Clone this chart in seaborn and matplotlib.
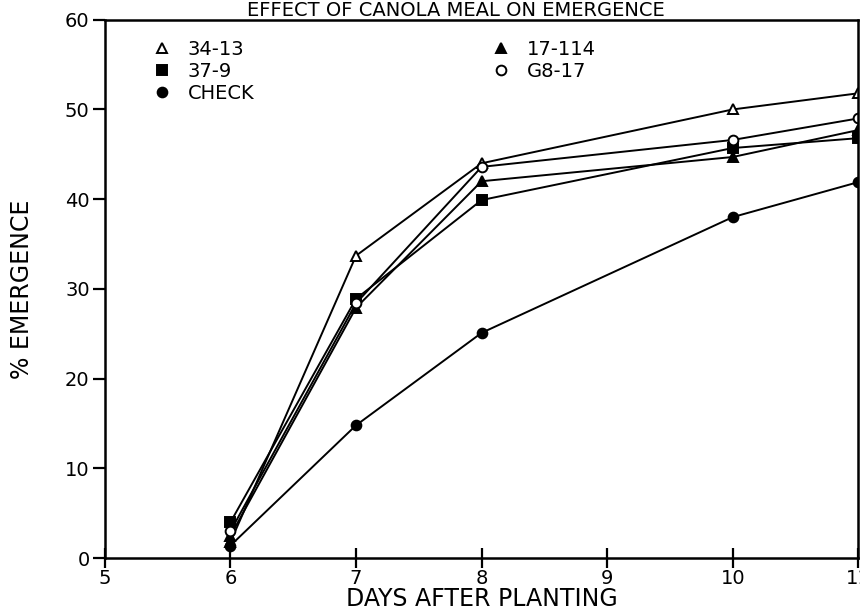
import pandas as pd
import matplotlib.pyplot as plt
import seaborn as sns
from matplotlib.lines import Line2D

# Data
days = [6, 7, 8, 10, 11]
e_34_13 = [1.8, 33.7, 44.0, 50.0, 51.8]
e_37_9 = [4.0, 28.9, 39.9, 45.7, 46.8]
e_check = [1.4, 14.8, 25.1, 38.0, 41.9]
e_17_114 = [2.5, 27.9, 42.0, 44.7, 47.7]
e_g8_17 = [3.0, 28.4, 43.6, 46.6, 49.0]

series = [
    ('34-13', e_34_13, '^', 'white'),
    ('37-9', e_37_9, 's', 'black'),
    ('CHECK', e_check, 'o', 'black'),
    ('17-114', e_17_114, '^', 'black'),
    ('G8-17', e_g8_17, 'o', 'white'),
]

sns.set_style("ticks")
plt.rcParams['font.family'] = ['DejaVu Sans Condensed', 'DejaVu Sans']
plt.rcParams['text.color'] = 'black'
plt.rcParams['xtick.color'] = 'black'
plt.rcParams['ytick.color'] = 'black'
plt.rcParams['axes.labelcolor'] = 'black'

fig = plt.figure(figsize=(8.6, 6.16), dpi=100)
ax = fig.add_axes([0.122, 0.094, 0.876, 0.874])

for name, vals, mk, face in series:
    df = pd.DataFrame({'day': days, 'pct': vals})
    sns.lineplot(data=df, x='day', y='pct', ax=ax, color='black', linewidth=1.4,
                 marker=mk, markersize=7, markerfacecolor=face,
                 markeredgecolor='black', markeredgewidth=1.4, legend=False)

ax.set_xlim(5, 11)
ax.set_ylim(0, 60)
ax.set_xticks(range(5, 12))
ax.set_yticks(range(0, 61, 10))
ax.tick_params(axis='x', direction='inout', length=14, width=1.6, labelsize=14, pad=1)
ax.tick_params(axis='y', direction='out', length=9, width=1.6, labelsize=14, pad=2)
for s in ax.spines.values():
    s.set_visible(True)
    s.set_linewidth(1.8)
    s.set_color('black')

ax.set_xlabel('DAYS AFTER PLANTING', fontsize=17, labelpad=-1)
ax.set_ylabel('% EMERGENCE', fontsize=17, labelpad=22)

fig.text(0.53, 0.999, 'EFFECT OF CANOLA MEAL ON EMERGENCE', ha='center', va='top',
         fontsize=14)

def handle(mk, face):
    return Line2D([], [], linestyle='none', marker=mk, markersize=7, color='black',
                  markerfacecolor=face, markeredgewidth=1.4)

left = [s for s in series if s[0] in ('34-13', '37-9', 'CHECK')]
right = [s for s in series if s[0] in ('17-114', 'G8-17')]
leg1 = ax.legend([handle(s[2], s[3]) for s in left], [s[0] for s in left],
                 loc='upper left', bbox_to_anchor=(0.04, 0.995), frameon=False,
                 fontsize=14, handlelength=1.0, handletextpad=0.8, labelspacing=0.15)
ax.add_artist(leg1)
ax.legend([handle(s[2], s[3]) for s in right], [s[0] for s in right],
          loc='upper left', bbox_to_anchor=(0.49, 0.995), frameon=False,
          fontsize=14, handlelength=1.0, handletextpad=0.8, labelspacing=0.15)

plt.savefig('out.png', dpi=100)
